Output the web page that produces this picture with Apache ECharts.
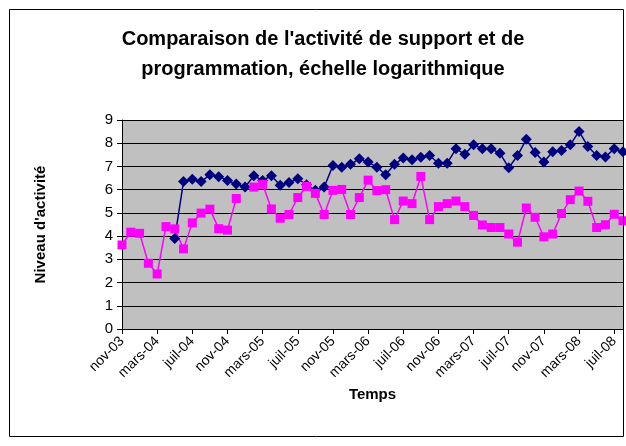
<!DOCTYPE html>
<html>
<head>
<meta charset="utf-8">
<script src="https://cdn.jsdelivr.net/npm/echarts@6/dist/echarts.min.js"></script>
<style>
html,body{margin:0;padding:0;background:#fff;}
#c{width:626px;height:446px;}
</style>
</head>
<body>
<div id="c"></div>
<script>
const months = ['nov-03','déc-03','janv-04','févr-04','mars-04','avr-04','mai-04','juin-04','juil-04','août-04','sept-04','oct-04',
'nov-04','déc-04','janv-05','févr-05','mars-05','avr-05','mai-05','juin-05','juil-05','août-05','sept-05','oct-05',
'nov-05','déc-05','janv-06','févr-06','mars-06','avr-06','mai-06','juin-06','juil-06','août-06','sept-06','oct-06',
'nov-06','déc-06','janv-07','févr-07','mars-07','avr-07','mai-07','juin-07','juil-07','août-07','sept-07','oct-07',
'nov-07','déc-07','janv-08','févr-08','mars-08','avr-08','mai-08','juin-08','juil-08','août-08'];

const programmation = [null,null,null,null,null,null,3.9,6.35,6.45,6.35,6.64,6.56,
6.4,6.24,6.11,6.6,6.4,6.6,6.19,6.31,6.47,6.21,5.97,6.11,
7.04,6.97,7.09,7.33,7.19,6.97,6.64,7.09,7.36,7.29,7.4,7.47,
7.14,7.14,7.76,7.53,7.93,7.76,7.76,7.57,6.94,7.47,8.17,7.6,
7.19,7.63,7.69,7.93,8.51,7.86,7.47,7.41,7.76,7.63];

const support = [3.62,4.17,4.12,2.83,2.37,4.41,4.31,3.45,4.57,4.99,5.16,4.32,
4.26,5.62,null,6.11,6.23,5.17,4.77,4.93,5.66,6.14,5.84,4.93,
5.97,6.01,4.93,5.66,6.41,5.96,6.0,4.71,5.51,5.4,6.57,4.71,
5.27,5.4,5.51,5.27,4.89,4.48,4.37,4.37,4.09,3.74,5.21,4.81,
3.97,4.09,4.97,5.57,5.94,5.5,4.37,4.49,4.94,4.66];

const chart = echarts.init(document.getElementById('c'), null, {renderer:'canvas'});
const FONT = '"Liberation Sans", Arial, sans-serif';
chart.setOption({
  animation:false,
  backgroundColor:'#ffffff',
  title:{
    text:"Comparaison de l'activité de support et de\nprogrammation, échelle logarithmique",
    left:318, top:19, textAlign:'center',
    textStyle:{fontFamily:FONT, fontSize:20, fontWeight:'bold', color:'#000', lineHeight:30}
  },
  grid:{left:122, top:120, width:501, height:209, show:true, backgroundColor:'#c0c0c0', borderWidth:0},
  xAxis:{
    type:'category', data:months, boundaryGap:false,
    name:'Temps', nameLocation:'middle', nameGap:58,
    nameTextStyle:{fontFamily:FONT, fontSize:15, fontWeight:'bold', color:'#000'},
    axisLine:{lineStyle:{color:'#000', width:1}},
    axisTick:{show:true, interval:3, length:5, lineStyle:{color:'#000'}},
    axisLabel:{interval:3, rotate:45, margin:10, fontFamily:FONT, fontSize:14, color:'#000'},
    splitLine:{show:false}
  },
  yAxis:{
    type:'value', min:0, max:9, interval:1,
    name:"Niveau d'activité", nameLocation:'middle', nameGap:74, nameRotate:90,
    nameTextStyle:{fontFamily:FONT, fontSize:15, fontWeight:'bold', color:'#000'},
    axisLine:{show:true, lineStyle:{color:'#000', width:1}},
    axisTick:{show:true, length:5, lineStyle:{color:'#000'}},
    axisLabel:{margin:9, fontFamily:FONT, fontSize:15, color:'#000'},
    splitLine:{show:true, lineStyle:{color:'#000', width:1}}
  },
  series:[
    {name:'Programmation', type:'line', data:programmation, symbol:'diamond', symbolSize:11, showAllSymbol:true,
     lineStyle:{color:'#000080', width:1.5}, itemStyle:{color:'#000080'}, clip:false},
    {name:'Support', type:'line', data:support, symbol:'rect', symbolSize:9, showAllSymbol:true,
     lineStyle:{color:'#ff00ff', width:1.5}, itemStyle:{color:'#ff00ff'}, clip:false}
  ],
  graphic:[{type:'rect', shape:{x:9.5, y:9.5, width:614, height:427}, style:{fill:null, stroke:'#000', lineWidth:1}, z:100}]
});
</script>
</body>
</html>
